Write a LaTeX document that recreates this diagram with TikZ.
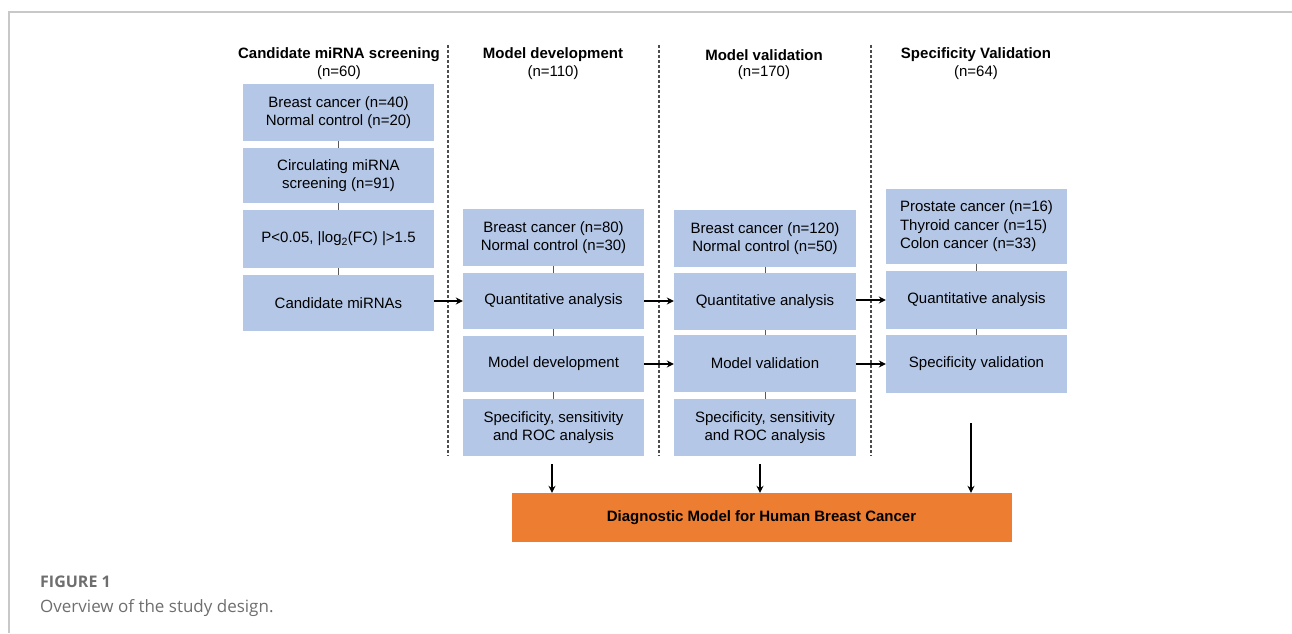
\documentclass[tikz,border=0pt]{standalone}
\usepackage{fontspec}
\setmainfont{Liberation Sans}
\newfontfamily\capfont{Open Sans}
\usetikzlibrary{arrows.meta}
\definecolor{boxblue}{RGB}{180,199,231}
\definecolor{orng}{RGB}{237,125,49}
\definecolor{capgray}{RGB}{110,110,110}
\definecolor{framegray}{RGB}{200,200,200}
\tikzset{
  stepbox/.style={fill=boxblue, draw=none, inner sep=0pt, align=center,
    font=\fontsize{15}{18.5}\selectfont},
  hdr/.style={font=\fontsize{15}{18}\selectfont\bfseries, inner sep=0pt},
  sub/.style={font=\fontsize{15}{18}\selectfont, inner sep=0pt},
  link/.style={draw=black!65, line width=0.9pt},
  flow/.style={draw=black, line width=1.8pt, -{Stealth[length=7pt,width=7pt]}},
  divider/.style={draw=black!70, line width=1.2pt, dash pattern=on 3pt off 2pt},
}
\begin{document}
\begin{tikzpicture}[x=1pt,y=-1pt]
\useasboundingbox (0,0) rectangle (1292,633);
% frame
\draw[framegray, line width=1.6pt] (9,633) -- (9,12) -- (1292,12);

% dividers
\coordinate (d1t) at (448,45); \coordinate (d1b) at (448,456);
\coordinate (d2t) at (659,45); \coordinate (d2b) at (659,456);
\coordinate (d3t) at (871,45); \coordinate (d3b) at (871,456);
\draw[divider] (d1t) -- (d1b);
\draw[divider] (d2t) -- (d2b);
\draw[divider] (d3t) -- (d3b);

% headers
\node[hdr] (h1) at (339,55) {Candidate miRNA screening};
\node[sub] (n1) at (339,73) {(n=60)};
\node[hdr] (h2) at (553,55) {Model development};
\node[sub] (n2) at (553,73) {(n=110)};
\node[hdr] (h3) at (764,55) {Model validation};
\node[sub] (n3) at (764,73) {(n=170)};
\node[hdr] (h4) at (976,55) {Specificity Validation};
\node[sub] (n4) at (976,73) {(n=64)};

% column 1
\node[stepbox, minimum width=191pt, minimum height=57pt] (c1a) at (338.5,112.5) {Breast cancer (n=40)\\Normal control (n=20)};
\node[stepbox, minimum width=191pt, minimum height=55pt] (c1b) at (338.5,175.5) {Circulating miRNA\\screening (n=91)};
\node[stepbox, minimum width=191pt, minimum height=58pt] (c1c) at (338.5,239) {P<0.05, |log\textsubscript{2}(FC) |>1.5};
\node[stepbox, minimum width=191pt, minimum height=56pt] (c1d) at (338.5,303) {Candidate miRNAs};

% column 2
\node[stepbox, minimum width=181pt, minimum height=57pt] (c2a) at (553.5,237.5) {Breast cancer (n=80)\\Normal control (n=30)};
\node[stepbox, minimum width=181pt, minimum height=56pt] (c2b) at (553.5,301) {Quantitative analysis};
\node[stepbox, minimum width=181pt, minimum height=56pt] (c2c) at (553.5,364) {Model development};
\node[stepbox, minimum width=181pt, minimum height=57pt] (c2d) at (553.5,427.5) {Specificity, sensitivity\\and ROC analysis};

% column 3
\node[stepbox, minimum width=182pt, minimum height=57pt] (c3a) at (765,238.5) {Breast cancer (n=120)\\Normal control (n=50)};
\node[stepbox, minimum width=182pt, minimum height=57pt] (c3b) at (765,301.5) {Quantitative analysis};
\node[stepbox, minimum width=182pt, minimum height=57pt] (c3c) at (765,363.5) {Model validation};
\node[stepbox, minimum width=182pt, minimum height=57pt] (c3d) at (765,427.5) {Specificity, sensitivity\\and ROC analysis};

% column 4
\node[stepbox, minimum width=181pt, minimum height=75pt, align=left] (c4a) at (976.5,226.5) {Prostate cancer (n=16)\\Thyroid cancer (n=15)\\Colon cancer (n=33)};
\node[stepbox, minimum width=181pt, minimum height=58pt] (c4b) at (976.5,300) {Quantitative analysis};
\node[stepbox, minimum width=181pt, minimum height=58pt] (c4c) at (976.5,364) {Specificity validation};

% final box
\node[fill=orng, minimum width=500pt, minimum height=49pt, inner sep=0pt,
  font=\fontsize{15}{18}\selectfont\bfseries] (fin) at (761.5,517.5) {Diagnostic Model for Human Breast Cancer};

% thin links
\draw[link] (c1a.south) -- (c1b.north);
\draw[link] (c1b.south) -- (c1c.north);
\draw[link] (c1c.south) -- (c1d.north);
\draw[link] (c2a.south) -- (c2b.north);
\draw[link] (c2b.south) -- (c2c.north);
\draw[link] (c2c.south) -- (c2d.north);
\draw[link] (c3a.south) -- (c3b.north);
\draw[link] (c3b.south) -- (c3c.north);
\draw[link] (c3c.south) -- (c3d.north);
\draw[link] (c4a.south) -- (c4b.north);
\draw[link] (c4b.south) -- (c4c.north);

% horizontal arrows
\draw[flow] (c1d.east |- c2b.west) -- (c2b.west);
\draw[flow] (c2b.east) -- (c3b.west |- c2b.east);
\draw[flow] (c2c.east) -- (c3c.west |- c2c.east);
\draw[flow] (c3b.east |- c4b.west) -- (c4b.west);
\draw[flow] (c3c.east |- c4c.west) -- (c4c.west);

% vertical arrows into final box
\coordinate (v1) at (552,464);
\coordinate (v2) at (760,464);
\coordinate (v3) at (971,423);
\draw[flow] (v1) -- (v1 |- fin.north);
\draw[flow] (v2) -- (v2 |- fin.north);
\draw[flow] (v3) -- (v3 |- fin.north);

% caption
\node[anchor=base west, inner sep=0pt, text=capgray, font=\capfont\fontsize{16}{19}\selectfont\bfseries] (fig) at (40,587) {FIGURE 1};
\node[anchor=base west, inner sep=0pt, text=capgray, font=\capfont\fontsize{17}{20}\selectfont] (cap) at (40,612) {Overview of the study design.};
\end{tikzpicture}
\end{document}
